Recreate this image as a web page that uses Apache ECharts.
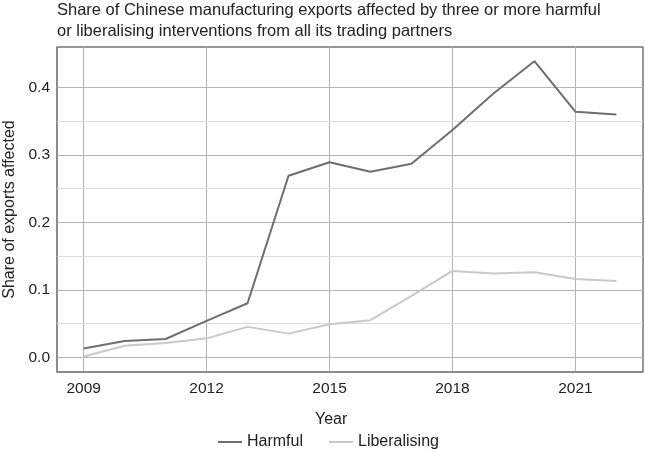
<!DOCTYPE html>
<html>
<head>
<meta charset="utf-8">
<script src="https://cdn.jsdelivr.net/npm/echarts@6/dist/echarts.min.js"></script>
<style>
html,body{margin:0;padding:0;background:#fff;}
#c{width:645px;height:450px;}
</style>
</head>
<body>
<div id="c"></div>
<script>
const years = [2009,2010,2011,2012,2013,2014,2015,2016,2017,2018,2019,2020,2021,2022];
const harmful = [0.013,0.024,0.027,0.054,0.080,0.269,0.289,0.275,0.287,0.337,0.391,0.439,0.364,0.360];
const liberalising = [0.001,0.017,0.021,0.028,0.045,0.035,0.049,0.055,0.091,0.128,0.124,0.126,0.116,0.113];
const xTicks = [2009,2012,2015,2018,2021];
const yTicks = [0,0.1,0.2,0.3,0.4];
const yMinor = [0.05,0.15,0.25,0.35];

const font = '"Liberation Sans", Arial, Helvetica, sans-serif';
const chart = echarts.init(document.getElementById('c'));
chart.setOption({
  animation: false,
  backgroundColor: '#fff',
  title: {
    text: 'Share of Chinese manufacturing exports affected by three or more harmful\nor liberalising interventions from all its trading partners',
    left: 57, top: 0, padding: 0,
    textStyle: {fontFamily: font, fontSize: 16.5, fontWeight: 'normal', color: '#222', lineHeight: 21}
  },
  legend: {
    left: 218, top: 434, padding: 0,
    itemWidth: 24, itemHeight: 2, itemGap: 26,
    icon: 'rect',
    textStyle: {fontFamily: font, fontSize: 16, color: '#222'},
    data: ['Harmful','Liberalising']
  },
  grid: {left: 57, right: 2, top: 47, bottom: 78, outerBoundsMode: 'none', containLabel: false,
         show: true, borderColor: '#333', borderWidth: 1},
  xAxis: {
    type: 'value', min: 2008.35, max: 2022.65,
    axisLine: {show: true, onZero: false, lineStyle: {color: '#888', width: 1.5}},
    axisTick: {show: false, customValues: xTicks},
    axisLabel: {customValues: xTicks, fontFamily: font, fontSize: 15.5, color: '#222', margin: 9,
                formatter: v => String(v)},
    splitLine: {show: true, lineStyle: {color: '#b4b4b4', width: 1}}
  },
  yAxis: {
    type: 'value', min: -0.0219, max: 0.46,
    name: 'Share of exports affected', nameLocation: 'middle', nameGap: 37,
    nameTextStyle: {fontFamily: font, fontSize: 16, color: '#222'},
    axisLine: {show: true, onZero: false, lineStyle: {color: '#888', width: 1.5}},
    axisTick: {show: false, customValues: yTicks},
    axisLabel: {customValues: yTicks, fontFamily: font, fontSize: 15.5, color: '#222', margin: 7,
                formatter: v => v.toFixed(1)},
    splitLine: {show: true, lineStyle: {color: '#b4b4b4', width: 1}}
  },
  graphic: [{
    type: 'text', left: 315, top: 412,
    style: {text: 'Year', font: '16px ' + font, fill: '#222'}
  }],
  series: [
    {
      name: 'Harmful', type: 'line', showSymbol: false, symbol: 'none',
      data: years.map((y,i)=>[y,harmful[i]]),
      lineStyle: {color: '#6e6e6e', width: 2}, itemStyle: {color: '#6e6e6e'},
      z: 3,
      markLine: {
        silent: true, symbol: 'none', label: {show: false},
        lineStyle: {color: '#dcdcdc', width: 1, type: 'solid'},
        data: yMinor.map(v => ({yAxis: v})), z: 1
      }
    },
    {
      name: 'Liberalising', type: 'line', showSymbol: false, symbol: 'none',
      data: years.map((y,i)=>[y,liberalising[i]]),
      lineStyle: {color: '#c9c9c9', width: 2}, itemStyle: {color: '#c9c9c9'},
      z: 3
    }
  ]
});
</script>
</body>
</html>
